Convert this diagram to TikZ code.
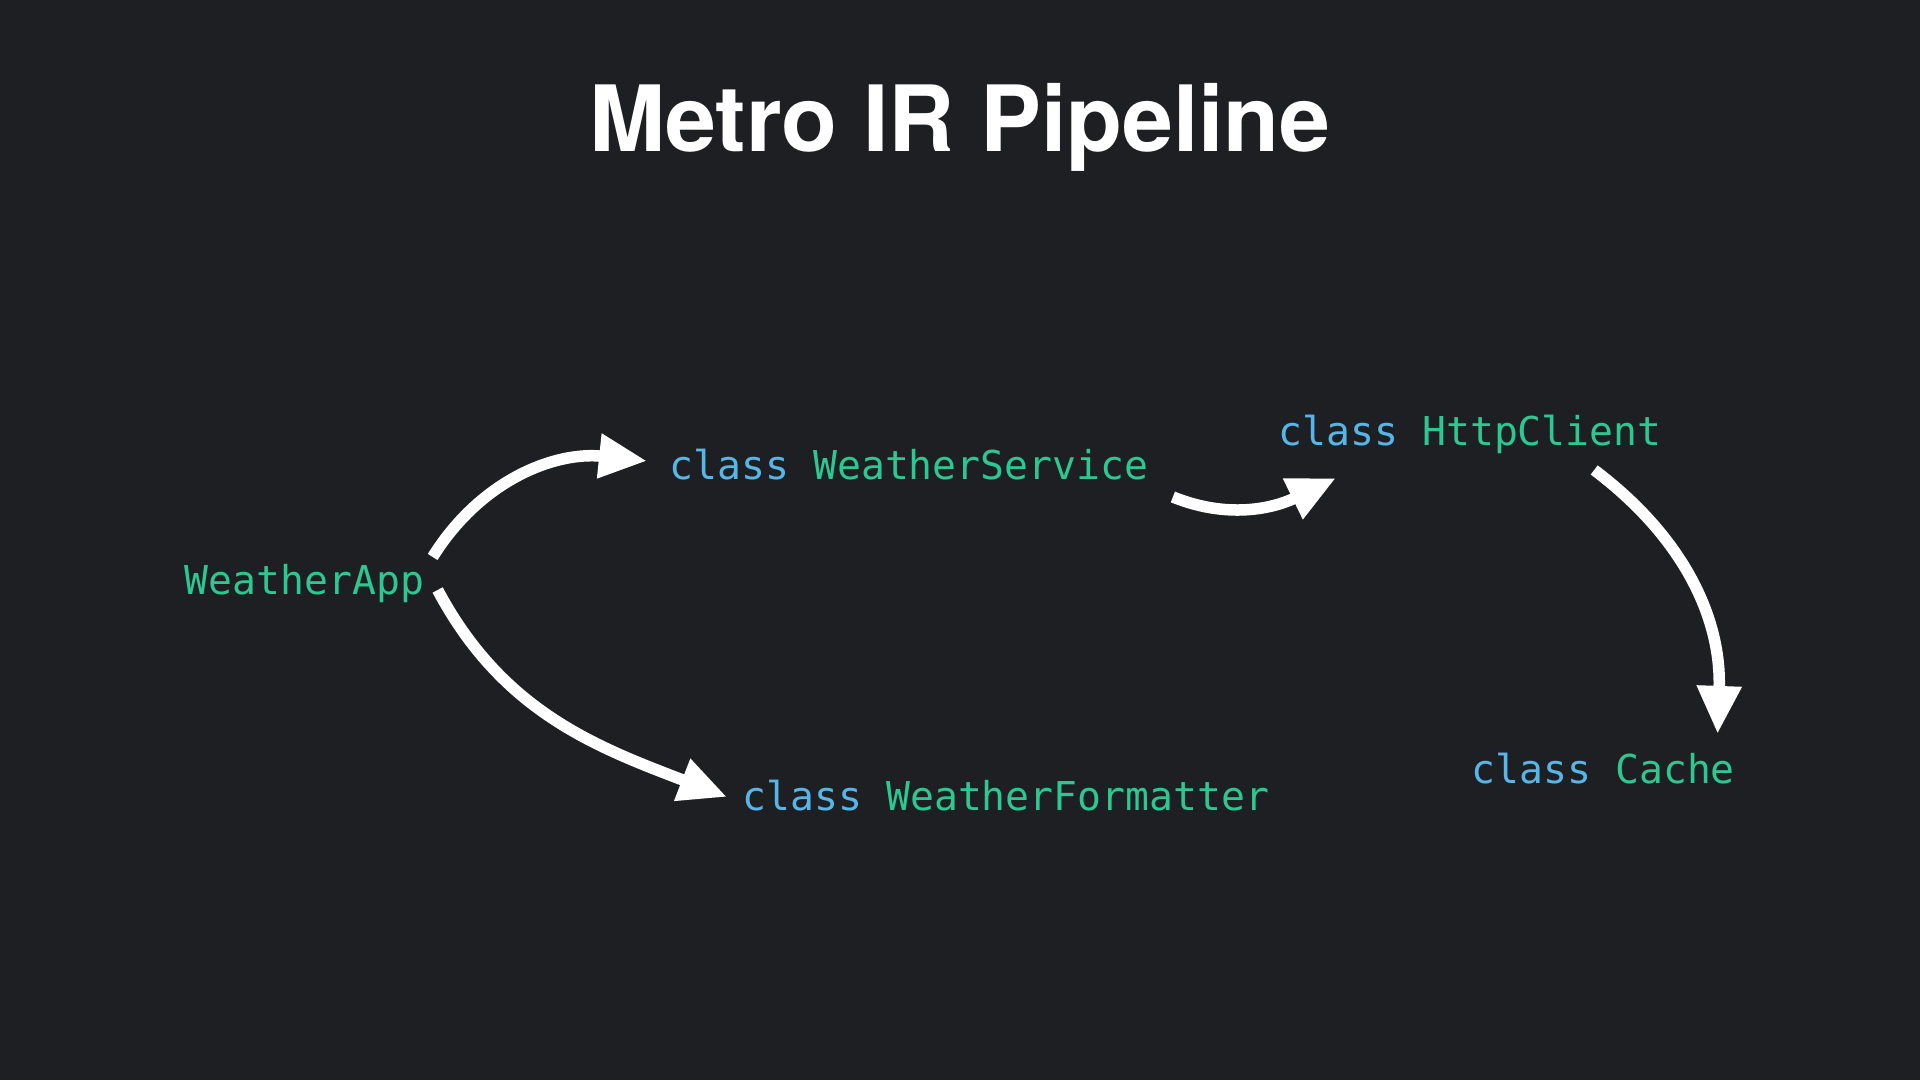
\documentclass[tikz,border=0pt]{standalone}
\usepackage{fontspec}
\setsansfont{TeX Gyre Heros}
\setmonofont{DejaVu Sans Mono}
\usetikzlibrary{arrows.meta}
\definecolor{bgdark}{HTML}{1E1F23}
\definecolor{kwblue}{HTML}{56B6E8}
\definecolor{typegreen}{HTML}{2DC891}
\newcommand{\kw}[1]{\textcolor{kwblue}{#1}}

\begin{document}
\begin{tikzpicture}[
  x=0.01cm, y=0.01cm,
  code/.style={anchor=base west, inner sep=0pt, text=typegreen, font=\ttfamily\fontsize{11.3}{13}\selectfont},
  link/.style={-{Triangle[length=0.48cm,width=0.42cm]}, line width=0.115cm, draw=white},
]
\fill[bgdark] (0,0) rectangle (1920,1080);
\node[anchor=base, inner sep=0pt, text=white, font=\sffamily\bfseries\fontsize{26}{30}\selectfont] (title) at (960,928) {Metro IR Pipeline};

\node[code] (app) at (184,485) {WeatherApp};
\node[code] (svc) at (669,600) {\kw{class} WeatherService};
\node[code] (fmt) at (742,269) {\kw{class} WeatherFormatter};
\node[code] (http) at (1278,634) {\kw{class} HttpClient};
\node[code] (cache) at (1471,296) {\kw{class} Cache};

% Arrows
\draw[link] ([shift={(8,38)}]app.base east) to[out=58, in=174] ([shift={(-22,19)}]svc.base west);
\draw[link] ([shift={(13,5)}]app.base east) to[out=-62, in=159] ([shift={(-15,14)}]fmt.base west);
\draw[link] ([shift={(24,-17)}]svc.base east) to[out=-22, in=-154] ([shift={(58,-32)}]http.base west);
\draw[link] ([shift={(-68,-24)}]http.base east) to[out=-37, in=88] ([shift={(-18,50)}]cache.base east);
\end{tikzpicture}
\end{document}
